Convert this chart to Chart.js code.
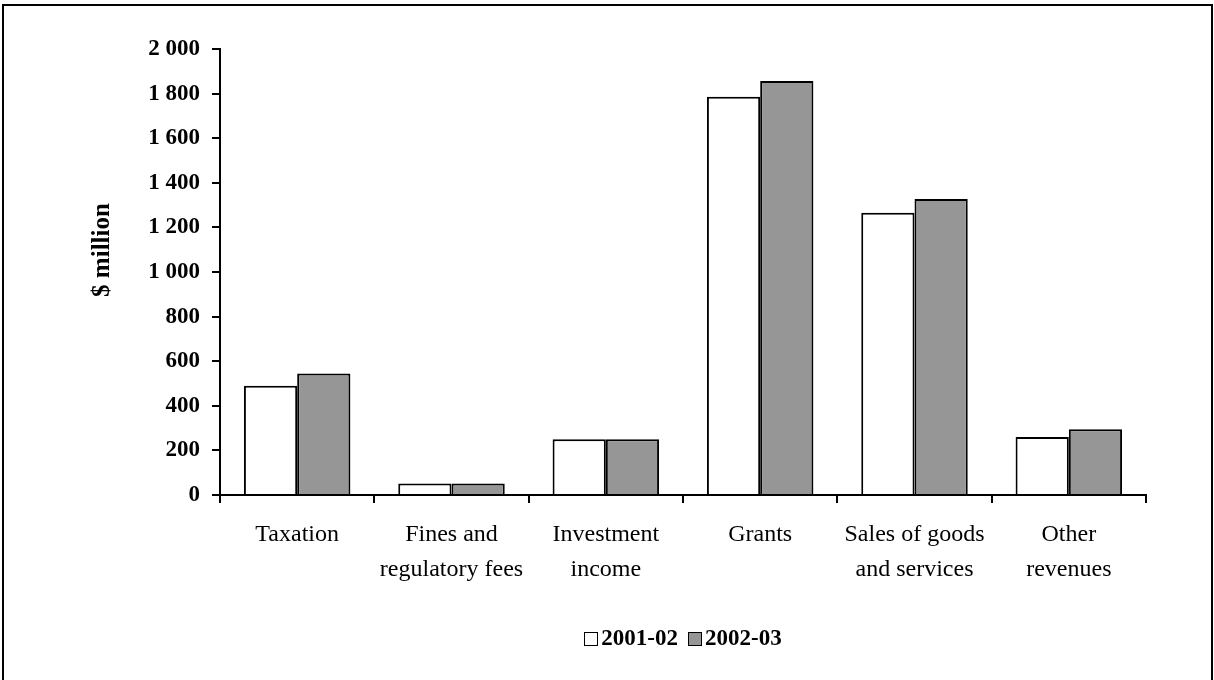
<!DOCTYPE html>
<html>
<head>
<meta charset="utf-8">
<script src="https://cdn.jsdelivr.net/npm/chart.js@4.4.1/dist/chart.umd.min.js"></script>
<style>
  html, body { margin: 0; padding: 0; background: #fff; }
  #wrap { position: relative; width: 1214px; height: 680px; overflow: hidden; }
  #legend {
    position: absolute; left: 220px; width: 926px; top: 624px;
    text-align: center; font-family: "Liberation Serif", serif;
    font-weight: bold; font-size: 23px; color: #000; line-height: 28px;
  }
  .item { display: inline-block; margin: 0 5px; white-space: nowrap; }
  .swatch {
    display: inline-block; width: 12px; height: 12px; border: 1px solid #000;
    margin-right: 3px; vertical-align: -1px;
  }
</style>
</head>
<body>
<div id="wrap">
  <canvas id="chart" width="1214" height="680"></canvas>
  <div id="legend"></div>
</div>
<script>
// Revenue by source, $ million
const categories = [
  'Taxation',
  ['Fines and', 'regulatory fees'],
  ['Investment', 'income'],
  'Grants',
  ['Sales of goods', 'and services'],
  ['Other', 'revenues']
];
const seriesNames = ['2001-02', '2002-03'];
const values2001 = [490, 52, 250, 1786, 1266, 260];
const values2002 = [545, 52, 250, 1857, 1327, 295];
const seriesColors = ['#ffffff', '#969696'];
const yTickLabels = ['0', '200', '400', '600', '800', '1 000', '1 200', '1 400', '1 600', '1 800', '2 000'];
const yTitle = '$ million';

Chart.defaults.font.family = '"Liberation Serif", serif';
Chart.defaults.color = '#000';

// Outer frame around the whole figure
const framePlugin = {
  id: 'frame',
  beforeDraw(chart) {
    const ctx = chart.ctx;
    ctx.save();
    ctx.fillStyle = '#fff';
    ctx.fillRect(0, 0, chart.width, chart.height);
    ctx.strokeStyle = '#000';
    ctx.lineWidth = 2;
    ctx.strokeRect(3, 5, 1209, 690);
    ctx.restore();
  }
};

// Vertical axis title, set a little above the middle of the axis
const yTitlePlugin = {
  id: 'yTitle',
  afterDraw(chart) {
    const ctx = chart.ctx;
    const area = chart.chartArea;
    ctx.save();
    ctx.translate(103, (area.top + area.bottom) / 2 - 22);
    ctx.rotate(-Math.PI / 2);
    ctx.font = 'bold 25px "Liberation Serif", serif';
    ctx.fillStyle = '#000';
    ctx.textAlign = 'center';
    ctx.textBaseline = 'middle';
    ctx.fillText(yTitle, 0, 0);
    ctx.restore();
  }
};

const seriesValues = [values2001, values2002];
const chart = new Chart(document.getElementById('chart'), {
  type: 'bar',
  data: {
    labels: categories,
    datasets: seriesNames.map((name, i) => ({
      label: name,
      data: seriesValues[i],
      backgroundColor: seriesColors[i],
      borderColor: '#000',
      borderWidth: 2,
      categoryPercentage: 0.69,
      barPercentage: 1.0
    }))
  },
  options: {
    responsive: false,
    animation: false,
    devicePixelRatio: 1,
    layout: { padding: { left: 84, top: 49, right: 68, bottom: 65 } },
    plugins: {
      legend: { display: false },
      tooltip: { enabled: false }
    },
    scales: {
      x: {
        grid: { offset: true, drawOnChartArea: false, drawTicks: true, tickLength: 8, color: '#000', lineWidth: 2 },
        border: { display: true, color: '#000', width: 2 },
        ticks: { font: { size: 24, lineHeight: 1.46 }, color: '#000', padding: 14, maxRotation: 0, autoSkip: false },
        afterFit(scale) { scale.height = 120; }
      },
      y: {
        min: 0, max: 2000,
        grid: { drawOnChartArea: false, drawTicks: true, tickLength: 8, color: '#000', lineWidth: 2 },
        border: { display: true, color: '#000', width: 2 },
        ticks: {
          stepSize: 200, padding: 12, color: '#000',
          font: { size: 23, weight: 'bold' },
          callback: (v) => yTickLabels[Math.round(v / 200)]
        },
        afterFit(scale) { scale.width = 136; }
      }
    }
  },
  plugins: [framePlugin, yTitlePlugin]
});

// Legend built from the chart's datasets
const legend = document.getElementById('legend');
chart.data.datasets.forEach((ds) => {
  const item = document.createElement('span');
  item.className = 'item';
  const sw = document.createElement('span');
  sw.className = 'swatch';
  sw.style.background = ds.backgroundColor;
  item.appendChild(sw);
  item.appendChild(document.createTextNode(ds.label));
  legend.appendChild(item);
});
</script>
</body>
</html>
